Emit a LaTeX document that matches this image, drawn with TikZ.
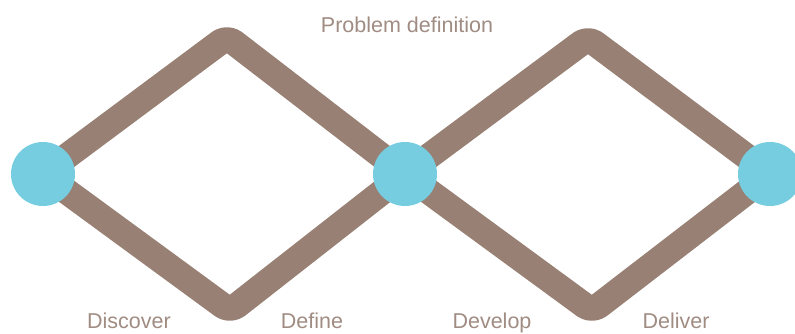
\documentclass[tikz,border=0pt]{standalone}
\usepackage{fontspec}
\setmainfont{Liberation Sans}
\definecolor{stem}{HTML}{988174}
\definecolor{hub}{HTML}{76CDE0}
\definecolor{caption}{HTML}{A08C82}

\begin{document}
\begin{tikzpicture}[x=1pt,y=-1pt,line join=round,line cap=round,
    main node/.style={circle,fill=hub,minimum size=64pt,inner sep=0pt},
    stem line/.style={draw=stem,line width=26pt,rounded corners=9pt},
    phase/.style={anchor=base,text=caption,font=\fontsize{21.5}{25}\selectfont}]
                \useasboundingbox (0,0) rectangle (795,334);
                \coordinate (1) at (43,174);
                \coordinate (2) at (405,174);
                \coordinate (3) at (770,174);
                \coordinate (t1) at (227,37);
                \coordinate (b1) at (230,311);
                \coordinate (t2) at (588,38);
                \coordinate (b2) at (592,311);

                \draw[stem line] (1) -- (t1) -- (2) -- (t2) -- (3);
                \draw[stem line] (1) -- (b1) -- (2) -- (b2) -- (3);

                \node[main node] (n1) at (1) {};
                \node[main node] (n2) at (2) {};
                \node[main node] (n3) at (3) {};

                \node[phase] (pd) at (407,33) {Problem definition};
                \node[phase] (dis) at (129,328) {Discover};
                \node[phase] (def) at (312,328) {Define};
                \node[phase] (dev) at (492,328) {Develop};
                \node[phase] (del) at (676,328) {Deliver};
            \end{tikzpicture}
\end{document}
